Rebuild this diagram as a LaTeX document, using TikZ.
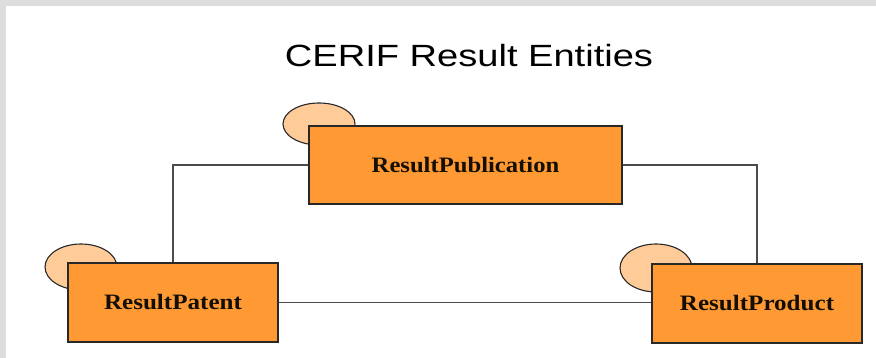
\documentclass[tikz,border=0pt]{standalone}
\usepackage{fontspec}
\setmainfont{Liberation Serif}
\newfontfamily\titlefont{Liberation Sans}
\usetikzlibrary{shapes.geometric}
\definecolor{boxorange}{RGB}{255,153,51}
\definecolor{peach}{RGB}{255,204,153}
\definecolor{bordergray}{RGB}{40,40,40}
\definecolor{linegray}{RGB}{75,75,75}
\definecolor{bggray}{RGB}{221,221,221}
\definecolor{textdark}{RGB}{20,15,5}
\begin{document}
\begin{tikzpicture}[x=1pt,y=-1pt,
  entity/.style={draw=bordergray, line width=1.2pt, fill=boxorange, inner sep=0pt,
    text=textdark, font=\fontsize{22}{24}\selectfont\bfseries},
  knob/.style={ellipse, draw=bordergray, line width=1.1pt, fill=peach, inner sep=0pt,
    minimum width=72pt, minimum height=42pt},
  link/.style={draw=linegray, line width=1.2pt}]
\useasboundingbox (0,0) rectangle (876,358);
\fill[bggray] (0,0) rectangle (876,358);
\fill[white] (6,6) rectangle (876,358);
\node[font=\titlefont\fontsize{30.7}{34}\selectfont, anchor=base] (title) at (469,67)
  {\scalebox{1.24}[1]{CERIF Result Entities}};
% ellipses behind boxes
\node[knob] (kpub) at (319,124) {};
\node[knob, minimum height=46pt] (kpat) at (81,267) {};
\node[knob, minimum height=48pt] (kprod) at (656,268) {};
% boxes
\node[entity, minimum width=313pt, minimum height=78pt] (pub) at (465.5,165)
  {\scalebox{1.12}[1]{ResultPublication}};
\node[entity, minimum width=210pt, minimum height=79pt] (pat) at (173,302.5)
  {\scalebox{1.14}[1]{ResultPatent}};
\node[entity, minimum width=210pt, minimum height=79pt] (prod) at (757,303.5)
  {\scalebox{1.14}[1]{ResultProduct}};
% connectors
\draw[link] (pub.west) -| (pat.north);
\draw[link] (pub.east) -| (prod.north);
\draw[link] (pat.east) -- (pat.east -| prod.west);
\end{tikzpicture}
\end{document}
